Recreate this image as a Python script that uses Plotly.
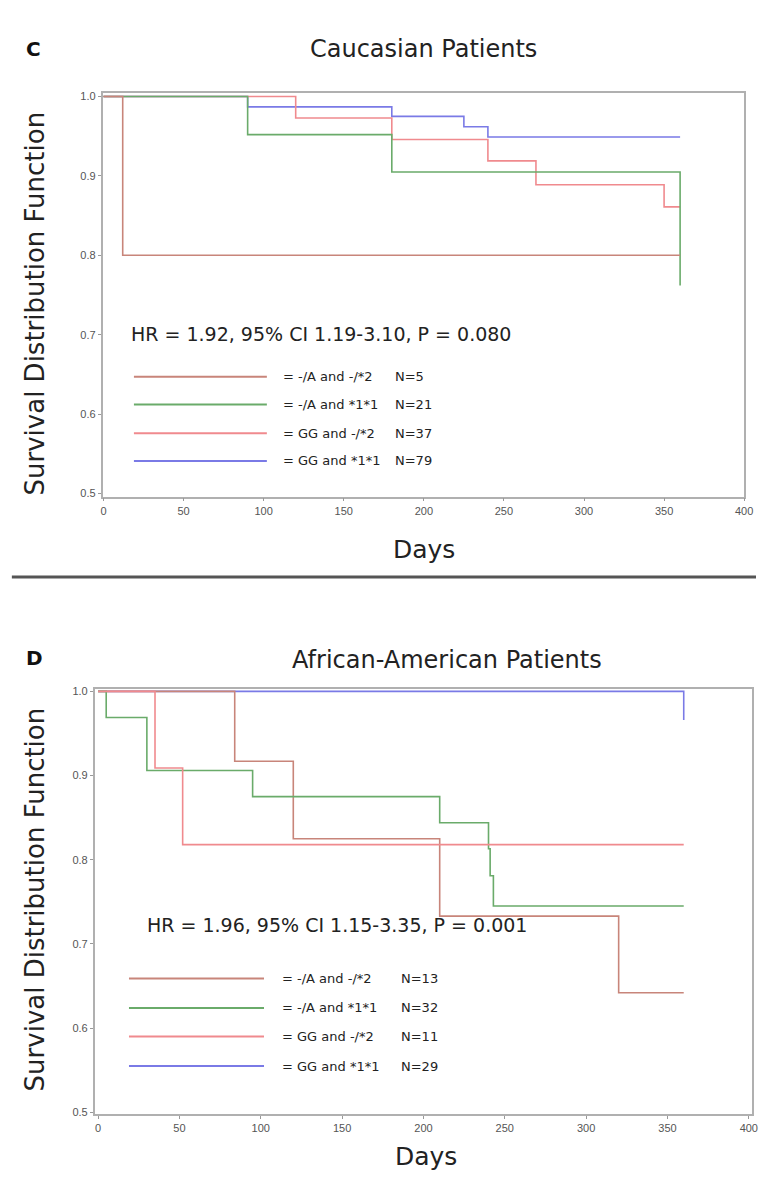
import plotly.graph_objects as go

# ---------------- data ----------------
group_labels = ["= -/A and -/*2", "= -/A and *1*1", "= GG and -/*2", "= GG and *1*1"]
group_colors = ["#c8857a", "#6aab6a", "#f08a8e", "#7a7ae6"]

# Caucasian patients (panel C)
cau_n = ["N=5", "N=21", "N=37", "N=79"]
cau_t_a_m2 = [0, 12, 360]
cau_s_a_m2 = [1.0, 0.800, 0.800]
cau_t_a_11 = [0, 90, 180, 360]
cau_s_a_11 = [1.0, 0.952, 0.905, 0.762]
cau_t_gg_m2 = [0, 120, 180, 240, 270, 350, 360]
cau_s_gg_m2 = [1.0, 0.973, 0.946, 0.919, 0.889, 0.861, 0.861]
cau_t_gg_11 = [0, 90, 180, 225, 240, 360]
cau_s_gg_11 = [1.0, 0.987, 0.975, 0.962, 0.949, 0.949]
cau_stats = "HR = 1.92, 95% CI 1.19-3.10, P = 0.080"

# African-American patients (panel D)
aa_n = ["N=13", "N=32", "N=11", "N=29"]
aa_t_a_m2 = [0, 84, 120, 210, 320, 360]
aa_s_a_m2 = [1.0, 0.917, 0.825, 0.733, 0.642, 0.642]
aa_t_a_11 = [0, 5, 30, 95, 210, 240, 241, 243, 360]
aa_s_a_11 = [1.0, 0.969, 0.906, 0.875, 0.844, 0.813, 0.781, 0.745, 0.745]
aa_t_gg_m2 = [0, 35, 52, 360]
aa_s_gg_m2 = [1.0, 0.909, 0.818, 0.818]
aa_t_gg_11 = [0, 360]
aa_s_gg_11 = [1.0, 0.966]
aa_stats = "HR = 1.96, 95% CI 1.15-3.35, P = 0.001"

x_ticks = [0, 50, 100, 150, 200, 250, 300, 350, 400]
y_ticks = [0.5, 0.6, 0.7, 0.8, 0.9, 1.0]

# legend sample positions (data units)
leg_x0, leg_x1 = 19, 102
cau_leg_y = [0.647, 0.612, 0.576, 0.541]
aa_leg_y = [0.659, 0.624, 0.590, 0.555]

# ---------------- figure ----------------
W, H = 765, 1178
fig = go.Figure()

def px(x):
    return x / W

def py(y):
    return 1 - y / H

panels = [
    dict(xa="x", ya="y",
         curves=[(cau_t_gg_11, cau_s_gg_11, 3), (cau_t_gg_m2, cau_s_gg_m2, 2),
                 (cau_t_a_11, cau_s_a_11, 1), (cau_t_a_m2, cau_s_a_m2, 0)],
         n=cau_n, stats=cau_stats, leg_y=cau_leg_y,
         stats_xy=(16, 0.701), txt_x=111, n_x=181),
    dict(xa="x2", ya="y2",
         curves=[(aa_t_gg_11, aa_s_gg_11, 3), (aa_t_a_m2, aa_s_a_m2, 0),
                 (aa_t_a_11, aa_s_a_11, 1), (aa_t_gg_m2, aa_s_gg_m2, 2)],
         n=aa_n, stats=aa_stats, leg_y=aa_leg_y,
         stats_xy=(29, 0.722), txt_x=112, n_x=185),
]

annotations = []
shapes = []
for p in panels:
    for t, s, gi in p["curves"]:
        fig.add_trace(go.Scatter(x=t, y=s, mode="lines", line_shape="hv",
                                 line=dict(color=group_colors[gi], width=1.6),
                                 xaxis=p["xa"], yaxis=p["ya"], showlegend=False,
                                 hoverinfo="skip"))
    for i, lab in enumerate(group_labels):
        shapes.append(dict(type="line", xref=p["xa"], yref=p["ya"],
                           x0=leg_x0, x1=leg_x1, y0=p["leg_y"][i], y1=p["leg_y"][i],
                           line=dict(color=group_colors[i], width=2)))
        annotations.append(dict(xref=p["xa"], yref=p["ya"], x=p["txt_x"], y=p["leg_y"][i],
                                text=lab, showarrow=False, xanchor="left", yanchor="middle",
                                font=dict(family="DejaVu Sans", size=13, color="#222")))
        annotations.append(dict(xref=p["xa"], yref=p["ya"], x=p["n_x"], y=p["leg_y"][i],
                                text=p["n"][i], showarrow=False, xanchor="left", yanchor="middle",
                                font=dict(family="DejaVu Sans", size=13, color="#222")))
    annotations.append(dict(xref=p["xa"], yref=p["ya"], x=p["stats_xy"][0], y=p["stats_xy"][1],
                            text=p["stats"], showarrow=False, xanchor="left", yanchor="middle",
                            font=dict(family="DejaVu Sans", size=19, color="#222")))

# titles and axis titles
title_font = dict(family="DejaVu Sans", size=24, color="#222")
annotations += [
    dict(xref="paper", yref="paper", x=px(22), y=py(45), text="<b>C</b>", showarrow=False,
         xanchor="left", yanchor="middle", font=dict(family="DejaVu Sans", size=20, color="#111")),
    dict(xref="paper", yref="paper", x=px(428), y=py(45), text="Caucasian Patients", showarrow=False,
         xanchor="center", yanchor="middle", font=title_font),
    dict(xref="paper", yref="paper", x=px(22), y=py(658), text="<b>D</b>", showarrow=False,
         xanchor="left", yanchor="middle", font=dict(family="DejaVu Sans", size=20, color="#111")),
    dict(xref="paper", yref="paper", x=px(451), y=py(660), text="African-American Patients", showarrow=False,
         xanchor="center", yanchor="middle", font=title_font),
    dict(xref="paper", yref="paper", x=px(33), y=py(302), text="Survival Distribution Function",
         showarrow=False, textangle=-90, xanchor="center", yanchor="middle",
         font=dict(family="DejaVu Sans", size=26, color="#222")),
    dict(xref="paper", yref="paper", x=px(33), y=py(902), text="Survival Distribution Function",
         showarrow=False, textangle=-90, xanchor="center", yanchor="middle",
         font=dict(family="DejaVu Sans", size=26, color="#222")),
    dict(xref="paper", yref="paper", x=px(428), y=py(549), text="Days", showarrow=False,
         xanchor="center", yanchor="middle", font=dict(family="DejaVu Sans", size=25, color="#222")),
    dict(xref="paper", yref="paper", x=px(430), y=py(1160), text="Days", showarrow=False,
         xanchor="center", yanchor="middle", font=dict(family="DejaVu Sans", size=25, color="#222")),
]

# separator line
shapes.append(dict(type="line", xref="paper", yref="paper", x0=px(10), x1=1.0,
                   y0=py(577), y1=py(577), line=dict(color="#555555", width=3)))

axis_common = dict(showgrid=False, zeroline=False, showline=True, mirror=True,
                   linecolor="#b0b0b0", linewidth=1.5, ticks="outside", ticklen=3,
                   tickcolor="#999", tickwidth=1,
                   tickfont=dict(family="Liberation Sans", size=11, color="#555"))

fig.update_layout(
    width=W, height=H, margin=dict(l=0, r=0, t=0, b=0),
    paper_bgcolor="white", plot_bgcolor="white", showlegend=False,
    xaxis=dict(domain=[px(102), px(753)], range=[-0.6, 400], anchor="y",
               tickvals=x_ticks, **axis_common),
    yaxis=dict(domain=[py(496), py(90)], range=[0.496, 1.004], anchor="x",
               tickvals=y_ticks, tickformat=".1f", **axis_common),
    xaxis2=dict(domain=[px(94), px(761)], range=[-2.1, 402], anchor="y2",
                tickvals=x_ticks, **axis_common),
    yaxis2=dict(domain=[py(1118), py(690)], range=[0.4976, 1.0024], anchor="x2",
                tickvals=y_ticks, tickformat=".1f", **axis_common),
    annotations=annotations, shapes=shapes,
)

fig.write_html("out.html", config={"displayModeBar": False},
               post_script="document.body.style.margin='0px';")
